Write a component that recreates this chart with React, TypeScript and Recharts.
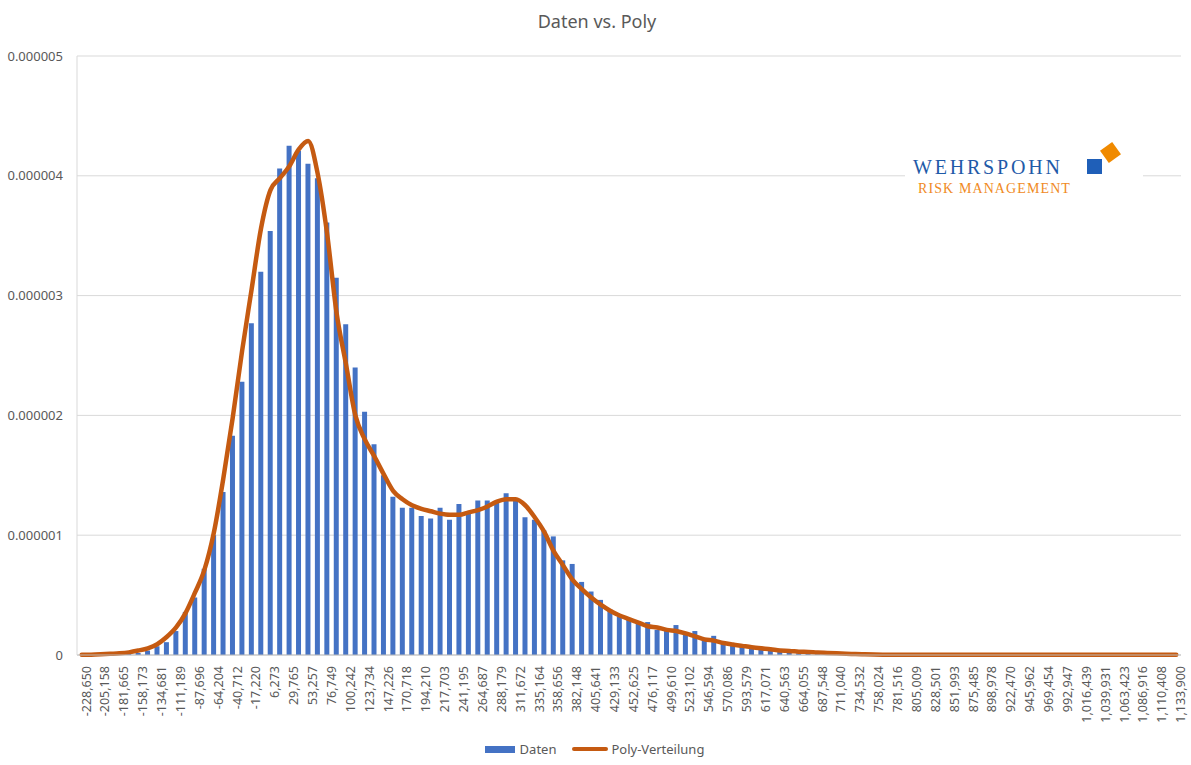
import { ComposedChart, Bar, Line, XAxis, YAxis, CartesianGrid, Legend } from "recharts";

// Klassengrenzen, wie sie an der x-Achse stehen (jede zweite Klasse beschriftet)
const TICK_VALUES = [
  -228650, -205158, -181665, -158173, -134681, -111189, -87696, -64204, -40712, -17220,
  6273, 29765, 53257, 76749, 100242, 123734, 147226, 170718, 194210, 217703,
  241195, 264687, 288179, 311672, 335164, 358656, 382148, 405641, 429133, 452625,
  476117, 499610, 523102, 546594, 570086, 593579, 617071, 640563, 664055, 687548,
  711040, 734532, 758024, 781516, 805009, 828501, 851993, 875485, 898978, 922470,
  945962, 969454, 992947, 1016439, 1039931, 1063423, 1086916, 1110408, 1133900,
];

// Dichte in Einheiten von 1e-6
const DATEN = [
  0, 0, 0.002, 0.004, 0.006, 0.01, 0.017, 0.037, 0.073, 0.107,
  0.2, 0.36, 0.48, 0.72, 1.0, 1.36, 1.83, 2.28, 2.77, 3.2,
  3.54, 4.06, 4.25, 4.21, 4.1, 3.98, 3.61, 3.15, 2.76, 2.4,
  2.03, 1.76, 1.5, 1.32, 1.23, 1.23, 1.16, 1.14, 1.23, 1.13,
  1.26, 1.19, 1.29, 1.29, 1.27, 1.35, 1.31, 1.15, 1.13, 1.04,
  0.99, 0.79, 0.76, 0.61, 0.53, 0.46, 0.38, 0.32, 0.3, 0.26,
  0.275, 0.21, 0.21, 0.25, 0.18, 0.2, 0.14, 0.16, 0.1, 0.085,
  0.076, 0.056, 0.048, 0.036, 0.025, 0.02, 0.014, 0.01, 0.008, 0.006,
  0.004, 0.003, 0.002, 0, 0, 0, 0, 0, 0, 0,
  0, 0, 0, 0, 0, 0, 0, 0, 0, 0,
  0, 0, 0, 0, 0, 0, 0, 0, 0, 0,
  0, 0, 0, 0, 0, 0, 0,
];

const POLY = [
  0.002, 0.003, 0.006, 0.01, 0.014, 0.022, 0.037, 0.056, 0.09, 0.15,
  0.23, 0.35, 0.52, 0.71, 1.02, 1.47, 1.98, 2.54, 3.05, 3.56,
  3.88, 3.98, 4.08, 4.22, 4.29, 4.02, 3.52, 2.86, 2.43, 2.0,
  1.8, 1.66, 1.51, 1.37, 1.3, 1.25, 1.22, 1.2, 1.18, 1.17,
  1.17, 1.19, 1.21, 1.24, 1.28, 1.3, 1.3, 1.25, 1.15, 1.03,
  0.87, 0.75, 0.63, 0.55, 0.48, 0.42, 0.37, 0.33, 0.3, 0.27,
  0.24, 0.23, 0.21, 0.2, 0.18, 0.155, 0.13, 0.12, 0.1, 0.087,
  0.076, 0.065, 0.056, 0.048, 0.037, 0.034, 0.028, 0.025, 0.02, 0.017,
  0.014, 0.011, 0.008, 0.006, 0.004, 0.003, 0.002, 0.002, 0.002, 0.002,
  0.002, 0.002, 0.002, 0.002, 0.002, 0.002, 0.002, 0.002, 0.002, 0.002,
  0.002, 0.002, 0.002, 0.002, 0.002, 0.002, 0.002, 0.002, 0.002, 0.002,
  0.002, 0.002, 0.002, 0.002, 0.002, 0.002, 0.002,
];

const Y_TICKS = [0, 0.000001, 0.000002, 0.000003, 0.000004, 0.000005];

// unbeschriftete Zwischenklassen liegen mittig zwischen zwei Beschriftungen
const BINS: number[] = [];
TICK_VALUES.forEach((v, k) => {
  BINS.push(v);
  if (k < TICK_VALUES.length - 1) BINS.push(Math.round((v + TICK_VALUES[k + 1]) / 2));
});

const data = BINS.map((bin, i) => ({
  bin: bin.toLocaleString("en-US"),
  daten: DATEN[i] * 1e-6,
  poly: POLY[i] * 1e-6,
}));

const GREY = "#595959";

function LegendContent({ payload }: any) {
  return (
    <div style={{ display: "flex", justifyContent: "center", alignItems: "center", height: 20, fontSize: 13, color: GREY, paddingLeft: 8 }}>
      {(payload || []).map((p: any) => (
        <div key={p.value} style={{ display: "flex", alignItems: "center", margin: "0 8px" }}>
          {p.type === "line" ? (
            <span style={{ display: "inline-block", width: 36, height: 4, borderRadius: 2, background: p.color, marginRight: 3 }} />
          ) : (
            <span style={{ display: "inline-block", width: 30, height: 7, background: p.color, marginRight: 5 }} />
          )}
          <span>{p.value}</span>
        </div>
      ))}
    </div>
  );
}

export default function App() {
  return (
    <div style={{ position: "relative", width: 1191, height: 765, fontFamily: '"Noto Sans", sans-serif', background: "#fff" }}>
      <style>{`body { margin: 0; }`}</style>
      <ComposedChart width={1191} height={765} data={data} margin={{ top: 56, right: 10, bottom: 0, left: 0 }}>
        <CartesianGrid vertical={false} stroke="#d9d9d9" />
        <XAxis
          dataKey="bin"
          interval={1}
          tickLine={false}
          tickMargin={5}
          height={90}
          axisLine={{ stroke: "#bfbfbf" }}
          tick={{ angle: -90, textAnchor: "end", verticalAnchor: "middle", fontSize: 12.5, fill: GREY } as any}
        />
        <YAxis
          width={77}
          domain={[0, 0.000005]}
          ticks={Y_TICKS}
          tickLine={false}
          tickMargin={8}
          axisLine={{ stroke: "#d9d9d9" }}
          tick={{ fontSize: 13, fill: GREY }}
          tickFormatter={(v: number) => (v === 0 ? "0" : v.toFixed(6))}
        />
        <Legend verticalAlign="bottom" height={20} wrapperStyle={{ bottom: 6 }} content={<LegendContent />} />
        <Bar dataKey="daten" name="Daten" fill="#4472C4" barSize={5} isAnimationActive={false} />
        <Line
          dataKey="poly"
          name="Poly-Verteilung"
          type="monotone"
          stroke="#C55A11"
          strokeWidth={4.5}
          strokeLinecap="round"
          strokeLinejoin="round"
          dot={false}
          activeDot={false}
          legendType="line"
          isAnimationActive={false}
        />
      </ComposedChart>
      <svg width={1191} height={765} style={{ position: "absolute", left: 0, top: 0, pointerEvents: "none" }}>
        <text x={597} y={28} textAnchor="middle" fontSize={18} fill={GREY}>Daten vs. Poly</text>
        {/* Logo */}
        <rect x={905} y={140} width={238} height={60} fill="#fff" />
        <text x={913} y={174} fontFamily='"Liberation Serif", serif' fontSize={20} letterSpacing={2.8} fill="#1F5AA8">WEHRSPOHN</text>
        <text x={918} y={193} fontFamily='"Liberation Serif", serif' fontSize={14} letterSpacing={1.1} fill="#F08A24">RISK MANAGEMENT</text>
        <rect x={1087} y={159} width={15} height={15} fill="#1F5FB8" />
        <rect x={1103} y={145} width={15} height={15} fill="#F08A00" transform="rotate(-36 1110.5 152.5)" />
      </svg>
    </div>
  );
}
